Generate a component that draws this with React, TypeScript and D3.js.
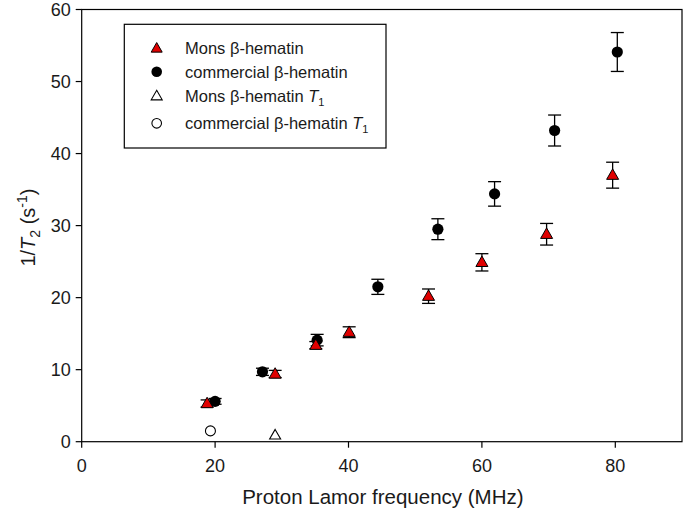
import React from "react";
import * as d3 from "d3";

const monsX = [18.8, 29.0, 35.1, 40.1, 52.0, 60.0, 69.7, 79.6];
const monsY = [5.3, 9.4, 13.4, 15.2, 20.2, 24.9, 28.8, 37.0];
const monsErr = [0.5, 0.5, 0.5, 0.75, 1.0, 1.2, 1.5, 1.8];

const commX = [20.0, 27.1, 35.3, 44.4, 53.4, 61.9, 70.9, 80.3];
const commY = [5.6, 9.7, 14.1, 21.5, 29.5, 34.4, 43.2, 54.1];
const commErr = [0.4, 0.5, 0.8, 1.05, 1.45, 1.7, 2.15, 2.7];

const monsT1X = [29.0];
const monsT1Y = [0.9];
const commT1X = [19.3];
const commT1Y = [1.5];

const xTicks = [0, 20, 40, 60, 80];
const yTicks = [0, 10, 20, 30, 40, 50, 60];
const legendLabels = ["Mons β-hematin", "commercial β-hematin", "Mons β-hematin ", "commercial β-hematin "];

const W = 685;
const H = 515;
const M = { left: 81.7, right: 682, top: 9.5, bottom: 441.7 };
const FONT = "Liberation Sans, Arial, sans-serif";

function tri(cx: number, cy: number, s: number) {
  const h = s * 0.87;
  return `M${cx},${cy - h * 0.6}L${cx + s / 2},${cy + h * 0.4}L${cx - s / 2},${cy + h * 0.4}Z`;
}

export default function App() {
  const x = d3.scaleLinear().domain([0, 90]).range([M.left, M.right]);
  const y = d3.scaleLinear().domain([0, 60]).range([M.bottom, M.top]);
  const cap = 6.5;

  const errBars = (xs: number[], ys: number[], es: number[], key: string) =>
    xs.map((xv, i) => {
      const cx = x(xv);
      const y1 = y(ys[i] + es[i]);
      const y2 = y(ys[i] - es[i]);
      return (
        <g key={key + i} stroke="#000" strokeWidth={1.3}>
          <line x1={cx} x2={cx} y1={y1} y2={y2} />
          <line x1={cx - cap} x2={cx + cap} y1={y1} y2={y1} />
          <line x1={cx - cap} x2={cx + cap} y1={y2} y2={y2} />
        </g>
      );
    });

  const legendRows = [48.3, 71.7, 96, 123.3];
  const legX = 156.7;

  return (
    <svg width={W} height={H} style={{ position: "absolute", left: 0, top: 0, background: "#fff" }} fontFamily={FONT}>
      <rect x={0} y={0} width={W} height={H} fill="#fff" />
      {/* frame */}
      <rect x={M.left} y={M.top} width={M.right - M.left} height={M.bottom - M.top} fill="none" stroke="#000" strokeWidth={1.2} />
      {/* x ticks */}
      {xTicks.map((t) => (
        <g key={"xt" + t}>
          <line x1={x(t)} x2={x(t)} y1={M.bottom} y2={M.bottom + 6} stroke="#000" strokeWidth={1.2} />
          <text x={x(t)} y={M.bottom + 30} textAnchor="middle" fontSize={18} fill="#1a1a1a">{t}</text>
        </g>
      ))}
      {yTicks.map((t) => (
        <g key={"yt" + t}>
          <line x1={M.left - 6} x2={M.left} y1={y(t)} y2={y(t)} stroke="#000" strokeWidth={1.2} />
          <text x={M.left - 11} y={y(t) + 6.5} textAnchor="end" fontSize={18} fill="#1a1a1a">{t}</text>
        </g>
      ))}
      <text x={(M.left + M.right) / 2 + 1} y={504} textAnchor="middle" fontSize={20.5} fill="#1a1a1a">Proton Lamor frequency (MHz)</text>
      <text transform={`translate(35,${(M.top + M.bottom) / 2 + 2}) rotate(-90)`} textAnchor="middle" fontSize={20} fill="#1a1a1a">
        1/<tspan fontStyle="italic">T</tspan><tspan fontSize={14} dy={5}>2</tspan><tspan dy={-5}> (s</tspan><tspan fontSize={14} dy={-8}>-1</tspan><tspan dy={8}>)</tspan>
      </text>

      {/* error bars */}
      {errBars(commX, commY, commErr, "ce")}
      {errBars(monsX, monsY, monsErr, "me")}
      {/* markers */}
      {commX.map((xv, i) => (
        <circle key={"c" + i} cx={x(xv)} cy={y(commY[i])} r={5.6} fill="#000" />
      ))}
      {monsX.map((xv, i) => (
        <path key={"m" + i} d={tri(x(xv), y(monsY[i]), 12)} fill="#e00000" stroke="#000" strokeWidth={1} />
      ))}
      {monsT1X.map((xv, i) => (
        <path key={"mt" + i} d={tri(x(xv), y(monsT1Y[i]), 11)} fill="#fff" stroke="#000" strokeWidth={1.1} />
      ))}
      {commT1X.map((xv, i) => (
        <circle key={"ct" + i} cx={x(xv)} cy={y(commT1Y[i])} r={5} fill="#fff" stroke="#000" strokeWidth={1.1} />
      ))}

      {/* legend */}
      <rect x={124.3} y={24.3} width={261.7} height={123.7} fill="#fff" stroke="#000" strokeWidth={1.2} />
      <path d={tri(legX, legendRows[0], 11)} fill="#e00000" stroke="#000" strokeWidth={1} />
      <circle cx={legX} cy={legendRows[1]} r={5.3} fill="#000" />
      <path d={tri(legX, legendRows[2], 11)} fill="#fff" stroke="#000" strokeWidth={1.1} />
      <circle cx={legX} cy={legendRows[3]} r={4.8} fill="#fff" stroke="#000" strokeWidth={1.1} />
      {legendLabels.map((l, i) => (
        <text key={"l" + i} x={185} y={legendRows[i] + 6} fontSize={16.5} fill="#1a1a1a">
          {l}
          {i >= 2 ? (
            <>
              <tspan fontStyle="italic">T</tspan>
              <tspan fontSize={11} dy={4}>1</tspan>
            </>
          ) : null}
        </text>
      ))}
    </svg>
  );
}
